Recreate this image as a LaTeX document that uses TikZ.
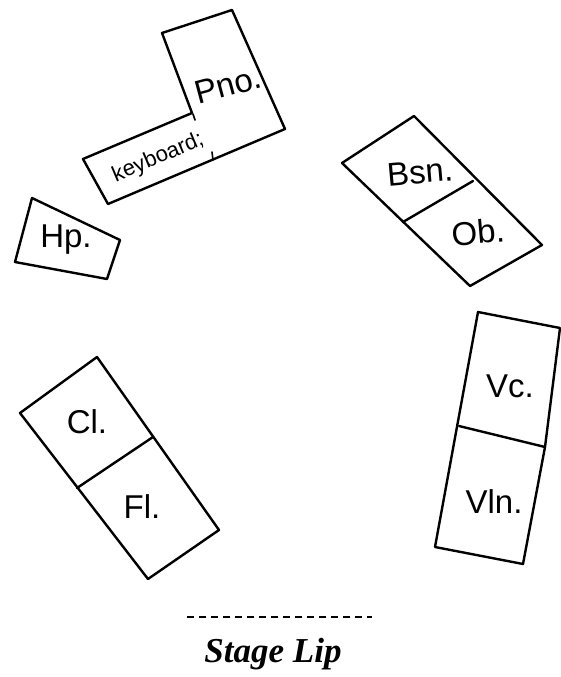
\documentclass[tikz,border=0pt]{standalone}
\usepackage{fontspec}
\setmainfont{Liberation Sans}
\newfontfamily\lipfont{Liberation Serif}
\begin{document}
\begin{tikzpicture}[x=1pt,y=-1pt,
  outline/.style={draw=black,line width=2.4pt,line join=round,line cap=round},
  hand/.style={font=\fontsize{33}{33}\selectfont,inner sep=0pt},
  lipline/.style={draw=black,line width=2.8pt,dash pattern=on 7pt off 5pt}]
\useasboundingbox (0,0) rectangle (561,677);
% piano + keyboard
\draw[outline] (162,33) -- (232,10) -- (285,129) -- (108,204) -- (83,159) -- (192,113) -- cycle;
\draw[outline,line width=1.6pt] (212,152) -- (213,160);
\draw[outline,line width=1.6pt] (193,114) -- (195,120);
\node[hand,rotate=15] (pno) at (228,85) {Pno.};
\node[hand,rotate=23,font=\fontsize{22}{22}\selectfont] (kbd) at (158,158) {keyboard;};
% harp
\draw[outline] (32,198) -- (120,240) -- (107,279) -- (15,262) -- cycle;
\node[hand] (hp) at (66,240) {Hp.};
% bassoon / oboe
\draw[outline] (414,116) -- (542,245) -- (470,286) -- (342,163) -- cycle;
\draw[outline] (403,222) -- (473,181);
\node[hand,rotate=5] (bsn) at (420,172) {Bsn.};
\node[hand,rotate=5] (ob) at (478,232) {Ob.};
% cello / violin
\draw[outline] (478,312) -- (560,328) -- (545,447) -- (523,564) -- (435,547) -- cycle;
\draw[outline] (459,426) -- (545,447);
\node[hand] (vc) at (510,386) {Vc.};
\node[hand] (vln) at (494,502) {Vln.};
% clarinet / flute
\draw[outline] (97,357) -- (219,530) -- (148,579) -- (20,413) -- cycle;
\draw[outline] (77,488) -- (153,437);
\node[hand] (cl) at (87,422) {Cl.};
\node[hand] (fl) at (142,507) {Fl.};
% stage lip
\coordinate (lipL) at (187,617);
\coordinate (lipR) at (372,617);
\draw[lipline] (lipL) -- (lipR);
\node[font=\lipfont\bfseries\itshape\fontsize{35}{35}\selectfont,inner sep=0pt,anchor=base] (lip) at (273,662) {Stage Lip};
\end{tikzpicture}
\end{document}
